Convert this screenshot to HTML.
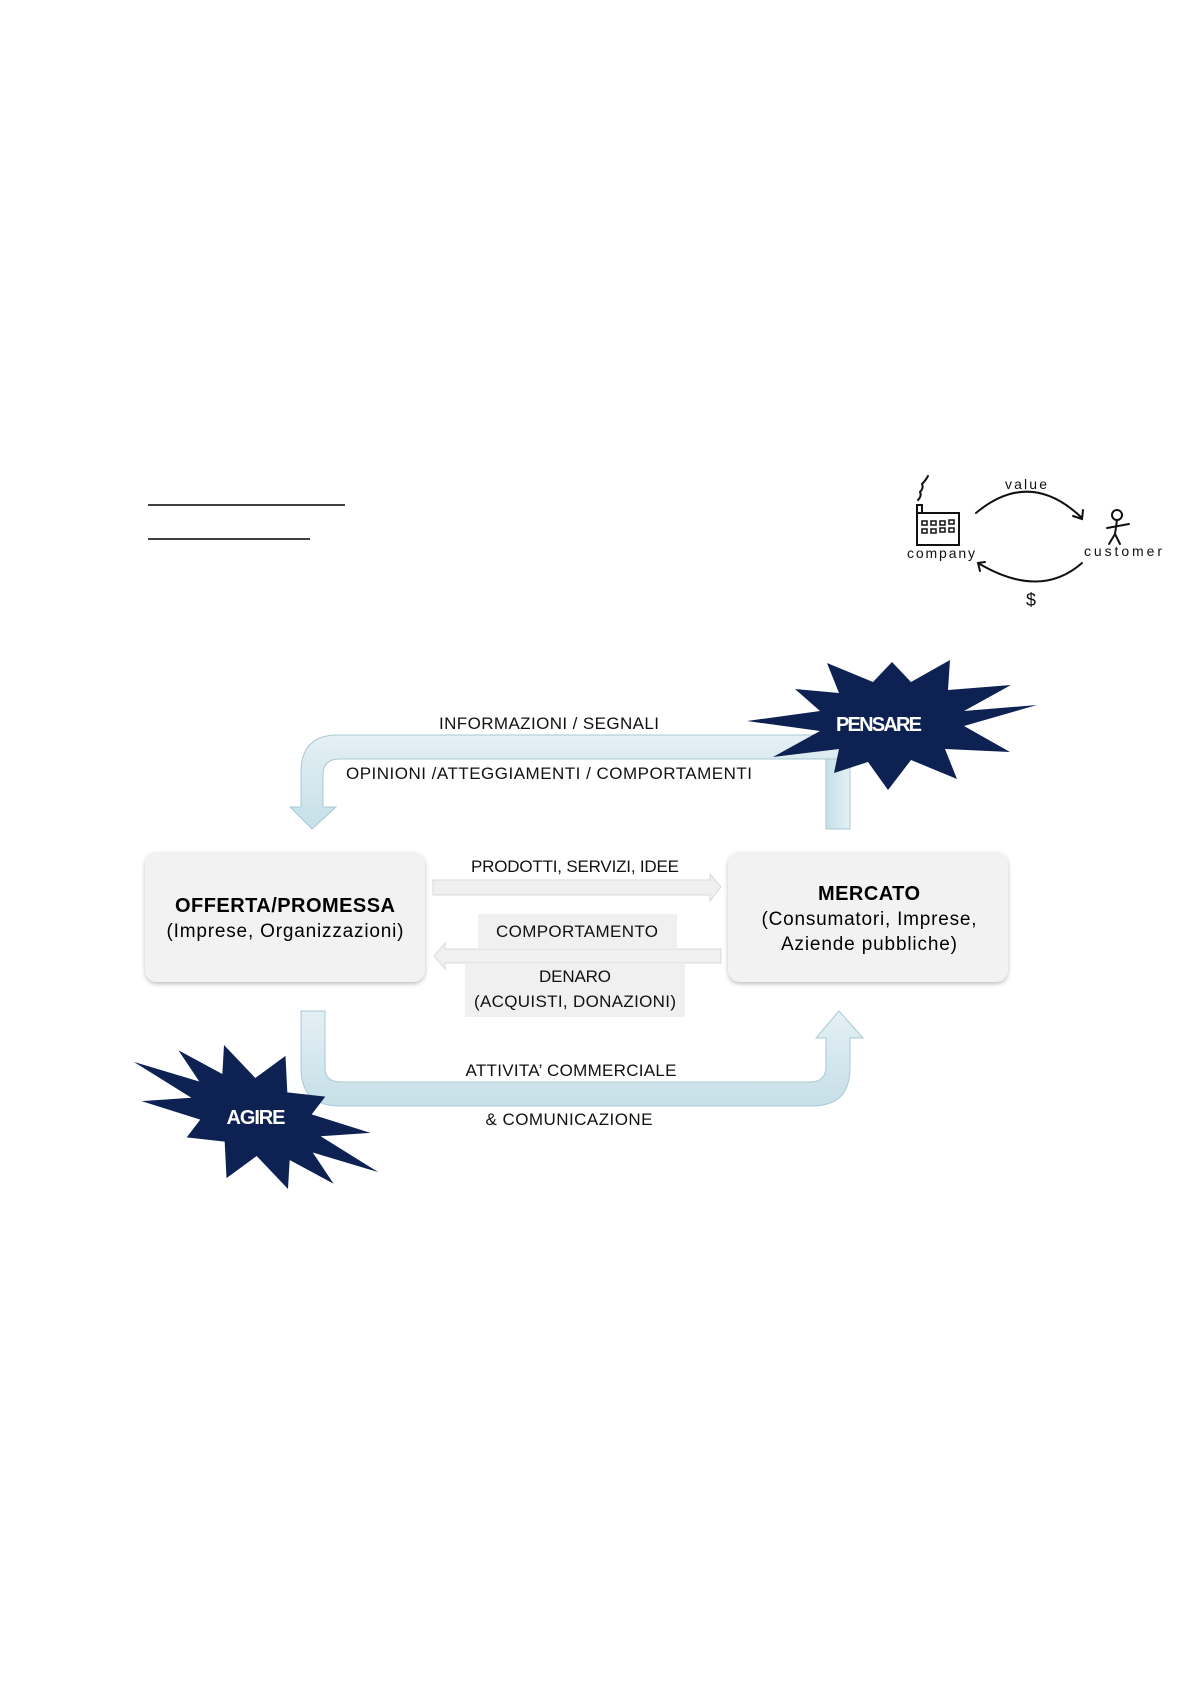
<!DOCTYPE html>
<html><head><meta charset="utf-8"><style>
html,body{margin:0;padding:0;background:#fff;}
svg{display:block;}
text{font-family:"Liberation Sans",sans-serif;}
</style></head><body>
<svg width="1190" height="1684" viewBox="0 0 1190 1684" xmlns="http://www.w3.org/2000/svg">
<defs>
<linearGradient id="bl" x1="0" y1="0" x2="0" y2="1"><stop offset="0" stop-color="#e4f0f4"/><stop offset="1" stop-color="#c6dfe7"/></linearGradient>
<linearGradient id="bv" x1="0" y1="0" x2="1" y2="0"><stop offset="0" stop-color="#c6dfe7"/><stop offset="1" stop-color="#e4f0f4"/></linearGradient>
<filter id="sh" x="-10%" y="-10%" width="120%" height="130%"><feDropShadow dx="0" dy="2" stdDeviation="2" flood-color="#000" flood-opacity="0.25"/></filter>
</defs>
<line x1="148" y1="505" x2="345" y2="505" stroke="#000" stroke-width="1.5"/>
<line x1="148" y1="539" x2="310" y2="539" stroke="#000" stroke-width="1.5"/>

<g fill="none" stroke="#111" stroke-width="2" stroke-linecap="round">
<rect x="917" y="513" width="42" height="32"/>
<rect x="917" y="505" width="5" height="8"/>
<path d="M918 500 q4 -4 2 -8 q4 -4 2 -8 q4 -4 6 -8"/>
<g stroke-width="1.5"><rect x="922" y="521" width="5" height="4"/><rect x="931" y="521" width="5" height="4"/><rect x="940" y="521" width="5" height="4"/><rect x="949" y="520" width="5" height="4"/><rect x="922" y="529" width="5" height="4"/><rect x="931" y="529" width="5" height="4"/><rect x="940" y="528" width="5" height="4"/><rect x="949" y="528" width="5" height="4"/></g>
<path d="M976 513 Q1030 468 1082 518"/><path d="M1073 516 l9 3 l1 -9"/>
<path d="M1082 563 Q1040 600 978 563"/><path d="M985 562 l-7 1 l2 8"/>
<circle cx="1117" cy="515" r="5"/><path d="M1117 520 l-2 14 l-6 10 M1115 534 l5 10 M1107 528 l22 -4"/>
</g>
<text x="907" y="558" font-size="14" fill="#111" font-family="DejaVu Sans Mono,monospace" textLength="68">company</text>
<text x="1005" y="489" font-size="14" fill="#111" font-family="DejaVu Sans Mono,monospace" textLength="42">value</text>
<text x="1084" y="556" font-size="14" fill="#111" font-family="DejaVu Sans Mono,monospace" textLength="78">customer</text>
<text x="1026" y="606" font-size="18" fill="#111" font-family="DejaVu Sans,sans-serif">$</text>

<path d="M850 735 L338 735 Q301 735 301 772 L301 807 L290 807 L312 829 L336 807 L323 807 L323 775 Q323 759 340 759 L850 759 Z" fill="url(#bl)" stroke="#a8c9d4" stroke-width="1"/>
<rect x="826" y="759" width="24" height="70" fill="url(#bv)" stroke="#a8c9d4" stroke-width="1"/>

<path d="M301 1011 L325 1011 L325 1068 Q325 1082 341 1082 L810 1082 Q826 1082 826 1066 L826 1038 L816 1038 L839 1011 L863 1038 L850 1038 L850 1068 Q850 1106 812 1106 L340 1106 Q301 1106 301 1068 Z" fill="url(#bl)" stroke="#a8c9d4" stroke-width="1"/>

<rect x="145" y="852" width="280" height="130" rx="12" fill="#f2f2f2" filter="url(#sh)"/>
<rect x="728" y="852" width="280" height="130" rx="12" fill="#f2f2f2" filter="url(#sh)"/>
<text x="285" y="912" font-size="20" font-weight="bold" text-anchor="middle" textLength="220" fill="#000">OFFERTA/PROMESSA</text>
<text x="285" y="937" font-size="19" text-anchor="middle" textLength="237" fill="#000">(Imprese, Organizzazioni)</text>
<text x="869" y="900" font-size="20" font-weight="bold" text-anchor="middle" textLength="102" fill="#000">MERCATO</text>
<text x="869" y="925" font-size="19" text-anchor="middle" textLength="215" fill="#000">(Consumatori, Imprese,</text>
<text x="869" y="950" font-size="19" text-anchor="middle" textLength="176" fill="#000">Aziende pubbliche)</text>

<path d="M433 880 L710 880 L710 874 L721 887 L710 901 L710 895 L433 895 Z" fill="#f0f0f0" stroke="#d8d8d8"/>
<path d="M721 949 L445 949 L445 943 L434 956 L445 969 L445 963 L721 963 Z" fill="#f0f0f0" stroke="#d8d8d8"/>
<rect x="478" y="914" width="199" height="35" fill="#f0f0f0"/>
<rect x="465" y="963" width="220" height="54" fill="#f0f0f0"/>

<g font-size="17" fill="#111" text-anchor="middle">
<text x="549" y="729" textLength="220">INFORMAZIONI / SEGNALI</text>
<text x="549" y="779" textLength="406">OPINIONI /ATTEGGIAMENTI / COMPORTAMENTI</text>
<text x="575" y="872" textLength="208">PRODOTTI, SERVIZI, IDEE</text>
<text x="577" y="937" textLength="162">COMPORTAMENTO</text>
<text x="575" y="982" textLength="72">DENARO</text>
<text x="575" y="1007" textLength="202">(ACQUISTI, DONAZIONI)</text>
<text x="571" y="1076" textLength="211">ATTIVITA’ COMMERCIALE</text>
<text x="569" y="1125" textLength="167">&amp; COMUNICAZIONE</text>
</g>

<polygon fill="#0d2253" points="1037,705 964,726 1010,752 945,749 957,779 911,760 888,790 868,762 834,773 839,749 773,757 820,731 747,721 820,711 795,689 839,693 827,663 873,682 892,662 911,682 950,660 948,690 1011,685 964,711"/>
<text x="879" y="731" font-size="20" font-weight="bold" fill="#fff" text-anchor="middle" textLength="86">PENSARE</text>
<g transform="translate(256,1117) scale(0.93,0.9) rotate(25) translate(-892,-721)">
<polygon fill="#0d2253" points="1037,721 964,731 999,753 945,749 957,779 911,760 892,796 873,760 834,773 839,749 773,757 820,731 747,721 820,711 785,689 839,693 827,663 873,682 892,646 911,682 950,669 945,693 1011,685 964,711"/>
</g>
<text x="256" y="1124" font-size="20" font-weight="bold" fill="#fff" text-anchor="middle" textLength="59">AGIRE</text>
</svg>
</body></html>
